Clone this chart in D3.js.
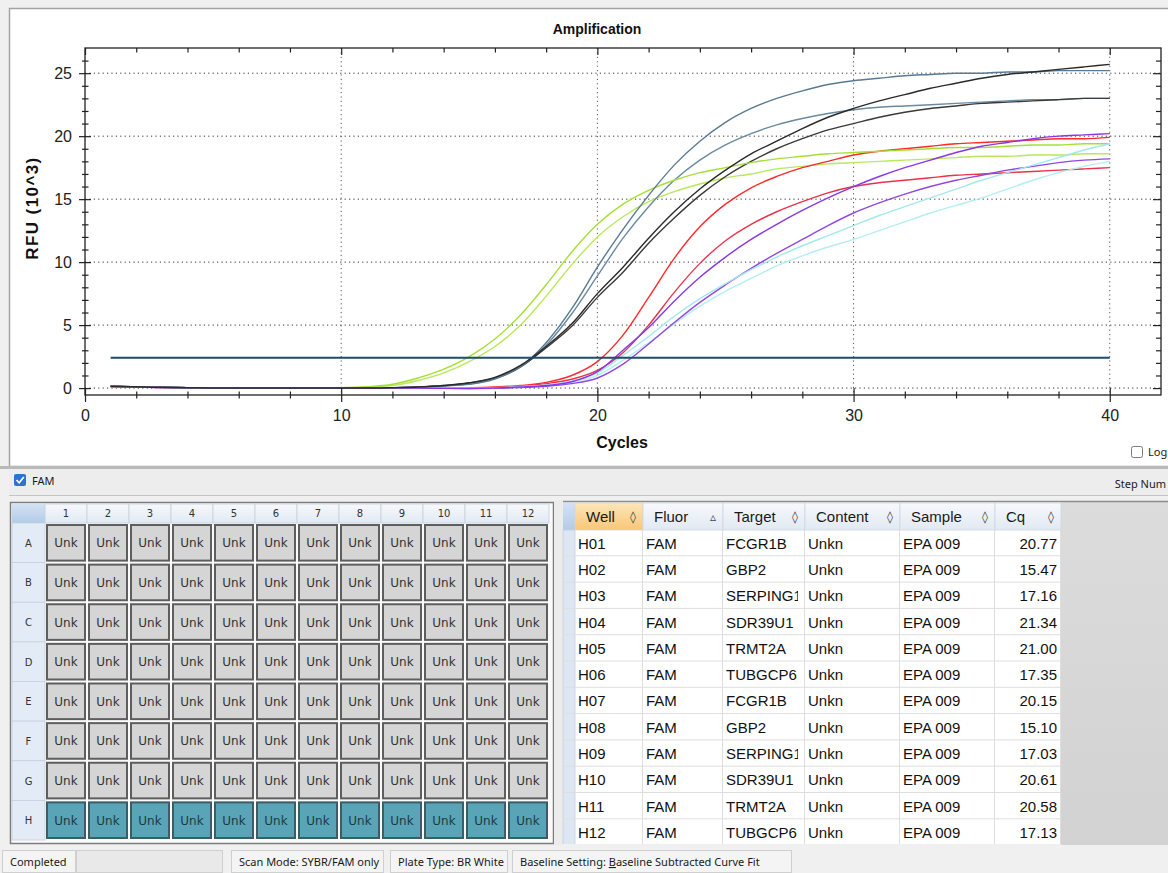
<!DOCTYPE html>
<html>
<head>
<meta charset="utf-8">
<script src="https://cdn.jsdelivr.net/npm/d3@7"></script>
<style>
    body { margin: 0; background: #f0f0f0; overflow: hidden; }
    svg { display: block; font-family: "Liberation Sans", Arial, sans-serif; }
    .ui { font-family: "Noto Sans", "DejaVu Sans", sans-serif; font-size: 11px; fill: #1a1a1a; }
    .plate { font-family: "DejaVu Sans", sans-serif; fill: #333; }
</style>
</head>
<body>
<svg id="screen" width="1168" height="873"></svg>
<script>
    // ---- amplification data (RFU x10^3 per cycle) ----
    var cycles = [1,2,3,4,5,6,7,8,9,10,11,12,13,14,15,16,17,18,19,20,21,22,23,24,25,26,27,28,29,30,31,32,33,34,35,36,37,38,39,40];

    var rfuH01 = [0.12,0.08,0.04,0.02,0,0,0,0,0,0, 0,0,0,0,0.01,0.05,0.15,0.35,0.7,1.4, 2.8,5.0,7.6,9.9,11.7,13.0,14.0,14.8,15.5,16.0, 16.3,16.5,16.7,16.9,17.0,17.1,17.2,17.3,17.4,17.5];
    var rfuH02 = [0.15,0.1,0.06,0.03,0.01,0,0,0,0,0.01, 0.05,0.2,0.6,1.2,2.1,3.3,5.0,7.3,9.8,12.0, 13.6,14.8,15.6,16.2,16.7,17.0,17.4,17.6,17.8,17.9, 18.0,18.1,18.2,18.3,18.4,18.4,18.5,18.5,18.6,18.6];
    var rfuH03 = [0.15,0.1,0.06,0.03,0.01,0,0,0,0,0, 0,0.02,0.08,0.18,0.3,0.72,1.65,3.4,5.9,8.9, 11.9,14.4,16.5,18.1,19.3,20.2,20.9,21.4,21.8,22.1, 22.3,22.4,22.5,22.6,22.7,22.8,22.9,22.9,23.0,23.0];
    var rfuH04 = [0.12,0.08,0.04,0.02,0,0,0,0,0,0, 0,0,0,0,0,0.02,0.1,0.2,0.45,1.0, 2.2,3.6,5.1,6.5,7.7,8.7,9.7,10.5,11.2,11.8, 12.5,13.2,13.9,14.5,15.1,15.8,16.5,17.1,17.6,18.0];
    var rfuH05 = [0.12,0.08,0.04,0.02,0,0,0,0,0,0, 0,0,0,-0.02,-0.03,-0.02,0.05,0.15,0.35,0.8, 1.9,3.5,5.2,6.8,8.2,9.5,10.7,11.8,12.9,13.9, 14.7,15.4,16.0,16.5,16.9,17.3,17.6,17.9,18.1,18.2];
    var rfuH06 = [0.15,0.1,0.06,0.03,0.01,0,0,0,0,0, 0,0.03,0.08,0.18,0.4,0.8,1.7,3.2,4.9,7.2, 9.2,11.5,13.5,15.3,16.8,18.0,19.0,19.8,20.5,21.0, 21.5,21.9,22.2,22.4,22.6,22.7,22.8,22.9,23.0,23.0];
    var rfuH07 = [0.12,0.08,0.04,0.02,0,0,0,0,0,0, 0,0,0,0,0.02,0.08,0.2,0.45,1.0,2.1, 4.2,7.2,10.3,12.8,14.6,15.9,16.8,17.5,18.0,18.5, 18.8,19.0,19.2,19.4,19.5,19.6,19.7,19.8,19.8,19.9];
    var rfuH08 = [0.15,0.1,0.06,0.03,0.01,0,0,0,0,0.02, 0.1,0.3,0.8,1.5,2.5,3.9,5.8,8.2,10.8,13.0, 14.6,15.7,16.5,17.1,17.5,17.9,18.2,18.4,18.6,18.7, 18.8,18.9,19.0,19.1,19.1,19.2,19.3,19.3,19.4,19.4];
    var rfuH09 = [0.15,0.1,0.06,0.03,0.01,0,0,0,0,0, 0,0.02,0.08,0.2,0.32,0.75,1.7,3.6,6.3,9.6, 12.6,15.3,17.7,19.6,21.1,22.2,23.0,23.6,24.1,24.4, 24.6,24.8,24.9,25.0,25.0,25.1,25.1,25.2,25.2,25.2];
    var rfuH10 = [0.12,0.08,0.04,0.02,0,0,0,0,0,0, 0,0,0,0,0,0.03,0.12,0.25,0.55,1.2, 2.6,4.1,5.7,7.1,8.3,9.4,10.4,11.3,12.1,12.9, 13.7,14.4,15.1,15.8,16.5,17.1,17.7,18.3,18.9,19.4];
    var rfuH11 = [0.12,0.08,0.04,0.02,0,0,0,0,0,0, 0,0,0,-0.02,-0.03,0,0.08,0.2,0.5,1.3, 3.0,4.8,6.9,8.8,10.4,11.8,13.0,14.1,15.1,16.0, 16.8,17.5,18.1,18.7,19.2,19.5,19.8,20.0,20.1,20.2];
    var rfuH12 = [0.15,0.1,0.06,0.03,0.01,0,0,0,0,0, 0,0.03,0.08,0.2,0.42,0.85,1.8,3.3,5.1,7.5, 9.6,11.9,14.0,15.8,17.3,18.6,19.6,20.6,21.5,22.2, 22.8,23.3,23.8,24.2,24.6,24.9,25.1,25.3,25.5,25.7];

    var thresholdRFU = 2.4;

    // ---- well table ----
    var wells = ["H01","H02","H03","H04","H05","H06","H07","H08","H09","H10","H11","H12"];
    var fluors = ["FAM","FAM","FAM","FAM","FAM","FAM","FAM","FAM","FAM","FAM","FAM","FAM"];
    var targets = ["FCGR1B","GBP2","SERPING1","SDR39U1","TRMT2A","TUBGCP6","FCGR1B","GBP2","SERPING1","SDR39U1","TRMT2A","TUBGCP6"];
    var contents = ["Unkn","Unkn","Unkn","Unkn","Unkn","Unkn","Unkn","Unkn","Unkn","Unkn","Unkn","Unkn"];
    var samples = ["EPA 009","EPA 009","EPA 009","EPA 009","EPA 009","EPA 009","EPA 009","EPA 009","EPA 009","EPA 009","EPA 009","EPA 009"];
    var cqs = [20.77,15.47,17.16,21.34,21.00,17.35,20.15,15.10,17.03,20.61,20.58,17.13];
    var curveColors = ["#e8334a","#b9e85a","#6a8aa0","#b3eef2","#9346e0","#3a3a3a","#ff2a2a","#a4e034","#587a92","#a3e8ee","#8a36e8","#2a2a2a"];
    var rfuByWell = [rfuH01,rfuH02,rfuH03,rfuH04,rfuH05,rfuH06,rfuH07,rfuH08,rfuH09,rfuH10,rfuH11,rfuH12];

    // ---- axis ticks ----
    var xTickValues = [0,2,4,6,8,10,12,14,16,18,20,22,24,26,28,30,32,34,36,38,40];
    var xLabels = [0,10,20,30,40];
    var yTickValues = [0,1,2,3,4,5,6,7,8,9,10,11,12,13,14,15,16,17,18,19,20,21,22,23,24,25,26];
    var yLabels = [0,5,10,15,20,25];

    // ---- plate ----
    var plateRows = ["A","B","C","D","E","F","G","H"];
    var plateCols = ["1","2","3","4","5","6","7","8","9","10","11","12"];
    var selectedRow = "H";

    var tableHeaders = ["Well","Fluor","Target","Content","Sample","Cq"];
    var sortGlyphs = ["\u25CA","\u25B5","\u25CA","\u25CA","\u25CA","\u25CA"];
    var statusItems = ["Completed","","Scan Mode: SYBR/FAM only","Plate Type: BR White","Baseline Setting: "];

    var svg = d3.select("#screen");
    var defs = svg.append("defs");

    function grad(id, top, bottom) {
        var g = defs.append("linearGradient").attr("id", id).attr("x1", 0).attr("y1", 0).attr("x2", 0).attr("y2", 1);
        g.append("stop").attr("offset", "0%").attr("stop-color", top);
        g.append("stop").attr("offset", "100%").attr("stop-color", bottom);
    }
    grad("hdr", "#f7f9fc", "#e1e9f3");
    grad("hdrWell", "#fde6b8", "#f8c777");
    grad("corner", "#d3e2f3", "#b3cbe7");
    grad("grayArea", "#dcdcdc", "#d2d2d2");

    // ================= chart panel =================
    svg.append("rect").attr("x", 9.5).attr("y", 8.5).attr("width", 1175).attr("height", 458)
        .attr("fill", "#fff").attr("stroke", "#a3a3a3").attr("stroke-width", 1.5);

    var x = d3.scaleLinear().domain([0, 42]).range([85, 1161]);
    var y = d3.scaleLinear().domain([-0.55, 27]).range([395, 48]);

    // dotted grid
    svg.append("g").selectAll("line").data(yLabels).enter().append("line")
        .attr("x1", x(0)).attr("x2", x(42)).attr("y1", d => y(d)).attr("y2", d => y(d))
        .attr("stroke", "#333").attr("stroke-dasharray", "1.2,3.2");
    svg.append("g").selectAll("line").data(xLabels.slice(1)).enter().append("line")
        .attr("y1", y(27)).attr("y2", y(-0.55)).attr("x1", d => x(d)).attr("x2", d => x(d))
        .attr("stroke", "#555").attr("stroke-dasharray", "1.2,3.2");

    // curves
    var line = d3.line()
        .x((d, i) => x(cycles[i]))
        .y(d => y(d))
        .curve(d3.curveMonotoneX);

    svg.append("g").selectAll("path").data(rfuByWell).enter().append("path")
        .attr("d", line)
        .attr("fill", "none")
        .attr("stroke", (d, i) => curveColors[i])
        .attr("stroke-width", 1.4);

    // threshold
    svg.append("line")
        .attr("x1", x(cycles[0])).attr("x2", x(cycles[cycles.length - 1]))
        .attr("y1", y(thresholdRFU)).attr("y2", y(thresholdRFU))
        .attr("stroke", "#1d4c6c").attr("stroke-width", 2);

    // frame
    svg.append("rect").attr("x", x(0)).attr("y", y(27)).attr("width", x(42) - x(0)).attr("height", y(-0.55) - y(27))
        .attr("fill", "none").attr("stroke", "#222").attr("stroke-width", 1.3);

    // bottom axis
    svg.append("g").attr("transform", "translate(0," + y(-0.55) + ")")
        .call(d3.axisBottom(x).tickValues(xTickValues).tickSize(0).tickFormat(d => xLabels.indexOf(d) >= 0 ? d : ""))
        .attr("font-size", 16).attr("font-family", "Liberation Sans, Arial, sans-serif")
        .call(g => g.select(".domain").remove())
        .call(g => g.selectAll(".tick line").attr("stroke", "#222").attr("stroke-width", 1.2)
            .attr("y1", d => d % 10 === 0 ? -7 : -3.5).attr("y2", d => d % 10 === 0 ? 7 : 3.5))
        .call(g => g.selectAll(".tick text").attr("y", 15).attr("fill", "#222"));

    // top axis (ticks only)
    svg.append("g").attr("transform", "translate(0," + y(27) + ")")
        .call(d3.axisTop(x).tickValues(xTickValues).tickSize(0).tickFormat(""))
        .call(g => g.select(".domain").remove())
        .call(g => g.selectAll(".tick line").attr("stroke", "#222").attr("stroke-width", 1.2)
            .attr("y1", 0).attr("y2", d => d % 10 === 0 ? 7 : 4.5));

    // left axis
    svg.append("g").attr("transform", "translate(" + x(0) + ",0)")
        .call(d3.axisLeft(y).tickValues(yTickValues).tickSize(0).tickFormat(d => yLabels.indexOf(d) >= 0 ? d : ""))
        .attr("font-size", 16).attr("font-family", "Liberation Sans, Arial, sans-serif")
        .call(g => g.select(".domain").remove())
        .call(g => g.selectAll(".tick line").attr("stroke", "#222").attr("stroke-width", 1.2)
            .attr("x1", d => d % 5 === 0 ? -6 : -3).attr("x2", d => d % 5 === 0 ? 6 : 3.5))
        .call(g => g.selectAll(".tick text").attr("x", -13).attr("fill", "#222"));

    // right axis (ticks only, inward)
    svg.append("g").attr("transform", "translate(" + x(42) + ",0)")
        .call(d3.axisRight(y).tickValues(yTickValues).tickSize(0).tickFormat(""))
        .call(g => g.select(".domain").remove())
        .call(g => g.selectAll(".tick line").attr("stroke", "#222").attr("stroke-width", 1.2)
            .attr("x1", d => d % 5 === 0 ? -8 : -5).attr("x2", 0));

    // titles
    svg.append("text").attr("x", 597).attr("y", 34).attr("text-anchor", "middle")
        .attr("font-weight", "bold").attr("font-size", 14).attr("fill", "#111").text("Amplification");
    svg.append("text").attr("x", 622).attr("y", 448).attr("text-anchor", "middle")
        .attr("font-weight", "bold").attr("font-size", 16).attr("fill", "#111").text("Cycles");
    svg.append("text").attr("transform", "translate(38,208) rotate(-90)").attr("text-anchor", "middle")
        .attr("font-weight", "bold").attr("font-size", 17).attr("letter-spacing", 1.4).attr("fill", "#111").text("RFU (10^3)");

    // Log checkbox
    svg.append("rect").attr("x", 1131.5).attr("y", 446.5).attr("width", 11).attr("height", 11).attr("rx", 2)
        .attr("fill", "#fff").attr("stroke", "#7a7a7a");
    svg.append("text").attr("class", "ui").attr("x", 1148).attr("y", 456).text("Log");

    // ================= FAM bar =================
    svg.append("rect").attr("x", 0).attr("y", 466).attr("width", 1168).attr("height", 3).attr("fill", "#b9b9b9");
    svg.append("rect").attr("x", 9).attr("y", 469).attr("width", 1160).attr("height", 26).attr("fill", "#ededed");
    svg.append("line").attr("x1", 9).attr("x2", 1168).attr("y1", 495.5).attr("y2", 495.5).attr("stroke", "#c4c4c4");
    svg.append("rect").attr("x", 14).attr("y", 474).attr("width", 12).attr("height", 12).attr("rx", 2).attr("fill", "#2b74cf");
    svg.append("path").attr("d", "M16.5,480 L19.2,482.8 L23.8,477").attr("fill", "none").attr("stroke", "#fff").attr("stroke-width", 1.6);
    svg.append("text").attr("class", "ui").attr("x", 32).attr("y", 485).text("FAM");
    svg.append("text").attr("class", "ui").attr("x", 1166).attr("y", 488).attr("text-anchor", "end").text("Step Num");

    // ================= plate =================
    var colBand = d3.scaleBand().domain(plateCols).range([45, 549]);
    var rowBand = d3.scaleBand().domain(plateRows).range([523, 840]);

    svg.append("rect").attr("x", 10.5).attr("y", 502.5).attr("width", 543).attr("height", 341)
        .attr("fill", "#fafafa").attr("stroke", "#7d7d7d").attr("stroke-width", 1.5);
    svg.append("rect").attr("x", 12).attr("y", 504).attr("width", 33).attr("height", 19).attr("fill", "url(#corner)");

    svg.append("g").selectAll("rect").data(plateCols).enter().append("rect")
        .attr("x", d => colBand(d)).attr("y", 504).attr("width", colBand.bandwidth()).attr("height", 19)
        .attr("fill", "url(#hdr)").attr("stroke", "#c6d0dc").attr("stroke-width", 0.8);
    svg.append("g").selectAll("text").data(plateCols).enter().append("text")
        .attr("class", "plate").style("font-size", "10px").attr("text-anchor", "middle")
        .attr("x", d => colBand(d) + colBand.bandwidth() / 2).attr("y", 517).text(d => d);

    svg.append("g").selectAll("rect").data(plateRows).enter().append("rect")
        .attr("x", 12).attr("y", d => rowBand(d)).attr("width", 33).attr("height", rowBand.bandwidth())
        .attr("fill", "#e3ecf6").attr("stroke", "#c6d0dc").attr("stroke-width", 0.8);
    svg.append("g").selectAll("text").data(plateRows).enter().append("text")
        .attr("class", "plate").style("font-size", "10px").attr("text-anchor", "middle")
        .attr("x", 28.5).attr("y", d => rowBand(d) + rowBand.bandwidth() / 2 + 4).text(d => d);

    var plateCells = [];
    plateRows.forEach(r => plateCols.forEach(c => plateCells.push({ row: r, col: c })));

    var well = svg.append("g").selectAll("g").data(plateCells).enter().append("g");
    well.append("rect")
        .attr("x", d => colBand(d.col) + 2).attr("y", d => rowBand(d.row) + 2)
        .attr("width", colBand.bandwidth() - 4).attr("height", rowBand.bandwidth() - 4)
        .attr("fill", d => d.row === selectedRow ? "#5aa4b7" : "#d5d5d5")
        .attr("stroke", d => d.row === selectedRow ? "#3c5c66" : "#5e5e5e").attr("stroke-width", 2);
    well.append("text").attr("class", "plate").style("font-size", "12px").attr("text-anchor", "middle")
        .attr("x", d => colBand(d.col) + colBand.bandwidth() / 2)
        .attr("y", d => rowBand(d.row) + rowBand.bandwidth() / 2 + 4.5)
        .style("fill", d => d.row === selectedRow ? "#1f3a44" : "#333").text("Unk");

    // splitter
    svg.append("rect").attr("x", 554).attr("y", 500).attr("width", 9).attr("height", 345).attr("fill", "#ececec");

    // ================= well table =================
    var colEdges = [575, 643, 723, 805, 900, 995, 1061];
    var rowBandT = d3.scaleBand().domain(wells).range([530, 530 + 12 * 26.3]);

    svg.append("rect").attr("x", 1061).attr("y", 501).attr("width", 110).attr("height", 344).attr("fill", "url(#grayArea)");
    svg.append("line").attr("x1", 563).attr("x2", 1168).attr("y1", 501.5).attr("y2", 501.5).attr("stroke", "#8d8d8d").attr("stroke-width", 1.5);

    defs.selectAll("clipPath.col").data(tableHeaders).enter().append("clipPath")
        .attr("class", "col").attr("id", (d, i) => "clipCol" + i)
        .append("rect").attr("x", (d, i) => colEdges[i]).attr("y", 500)
        .attr("width", (d, i) => colEdges[i + 1] - colEdges[i] - 7).attr("height", 345);
    defs.append("clipPath").attr("id", "clipBody").append("rect").attr("x", 560).attr("y", 500).attr("width", 620).attr("height", 344);

    var table = svg.append("g").attr("clip-path", "url(#clipBody)");
    table.append("rect").attr("x", 575).attr("y", 530).attr("width", 486).attr("height", 320).attr("fill", "#fff");
    table.append("rect").attr("x", 563).attr("y", 503).attr("width", 12).attr("height", 27).attr("fill", "url(#corner)");
    table.append("rect").attr("x", 563).attr("y", 530).attr("width", 12).attr("height", 320).attr("fill", "#dde7f3")
        .attr("stroke", "#c6d0dc").attr("stroke-width", 0.8);

    table.selectAll("rect.hdr").data(tableHeaders).enter().append("rect").attr("class", "hdr")
        .attr("x", (d, i) => colEdges[i]).attr("y", 503).attr("width", (d, i) => colEdges[i + 1] - colEdges[i]).attr("height", 27)
        .attr("fill", (d, i) => i === 0 ? "url(#hdrWell)" : "url(#hdr)").attr("stroke", "#cfd6df").attr("stroke-width", 0.8);
    table.selectAll("text.hdr").data(tableHeaders).enter().append("text").attr("class", "hdr")
        .attr("x", (d, i) => colEdges[i] + 11).attr("y", 522).attr("font-size", 15).attr("fill", "#1a1a1a").text(d => d);
    table.selectAll("text.glyph").data(sortGlyphs).enter().append("text").attr("class", "glyph")
        .attr("x", (d, i) => colEdges[i + 1] - 10).attr("y", 521).attr("text-anchor", "middle")
        .attr("font-family", "DejaVu Sans, sans-serif").attr("font-size", 12).attr("fill", "#444").text(d => d);

    // body grid
    table.selectAll("line.row").data(wells).enter().append("line").attr("class", "row")
        .attr("x1", 563).attr("x2", 1061).attr("y1", d => rowBandT(d) + rowBandT.bandwidth() - 0.5).attr("y2", d => rowBandT(d) + rowBandT.bandwidth() - 0.5)
        .attr("stroke", "#dedede");
    table.selectAll("line.col").data(colEdges.slice(1)).enter().append("line").attr("class", "col")
        .attr("x1", d => d - 0.5).attr("x2", d => d - 0.5).attr("y1", 530).attr("y2", 850).attr("stroke", "#dedede");

    var columns = [wells, fluors, targets, contents, samples, cqs.map(v => v.toFixed(2))];
    columns.forEach(function (vals, ci) {
        table.append("g").attr("clip-path", ci === 5 ? null : "url(#clipCol" + ci + ")")
            .selectAll("text").data(vals).enter().append("text")
            .attr("x", ci === 5 ? colEdges[6] - 4 : colEdges[ci] + 3)
            .attr("text-anchor", ci === 5 ? "end" : "start")
            .attr("y", (d, i) => rowBandT(wells[i]) + rowBandT.bandwidth() / 2 + 5.5)
            .attr("font-size", 15).attr("fill", "#111").text(d => d);
    });

    // ================= status bar =================
    svg.append("rect").attr("x", 0).attr("y", 845).attr("width", 1168).attr("height", 28).attr("fill", "#f0f0f0");
    var statusBoxes = [[2, 76], [76, 149], [231, 155], [390, 120], [512, 282]];
    svg.append("g").selectAll("rect").data(statusBoxes).enter().append("rect")
        .attr("x", d => d[0] + 0.5).attr("y", 850.5).attr("width", d => d[1] - 3).attr("height", 22)
        .attr("fill", (d, i) => i === 1 ? "#e9e9e9" : "#f4f4f4").attr("stroke", "#cfcfcf");
    svg.append("g").selectAll("text").data(statusItems).enter().append("text").attr("class", "ui")
        .attr("x", (d, i) => statusBoxes[i][0] + 8).attr("y", 866).text(d => d)
        .filter((d, i) => i === 4)
        .call(t => t.append("tspan").attr("text-decoration", "underline").text("B"))
        .call(t => t.append("tspan").text("aseline Subtracted Curve Fit"));
</script>
</body>
</html>
